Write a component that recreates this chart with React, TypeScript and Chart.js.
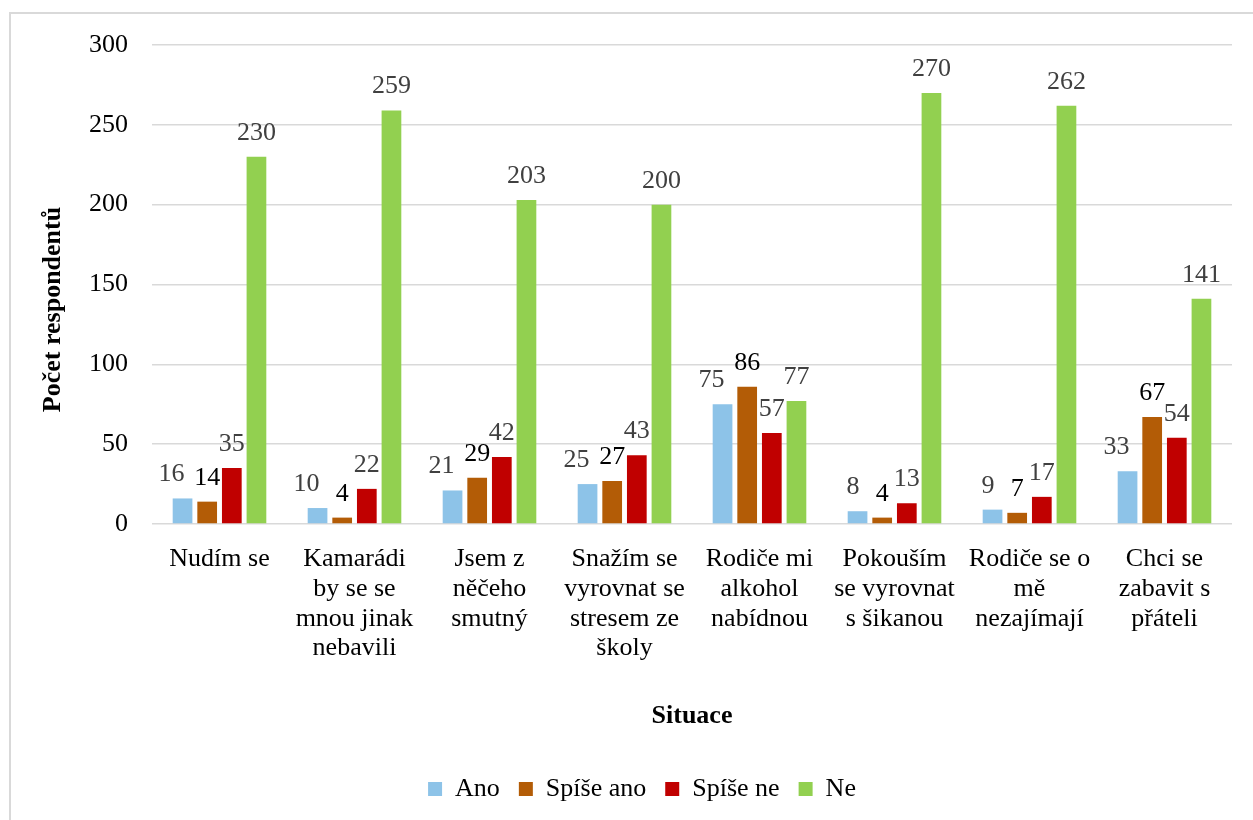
import React, { useEffect, useRef } from "react";
import { Chart, registerables } from "chart.js";

Chart.register(...registerables);

// Situations (x-axis categories), split into the lines they wrap to
const categories: string[][] = [
  ["Nudím se"],
  ["Kamarádi", "by se se", "mnou jinak", "nebavili"],
  ["Jsem z", "něčeho", "smutný"],
  ["Snažím se", "vyrovnat se", "stresem ze", "školy"],
  ["Rodiče mi", "alkohol", "nabídnou"],
  ["Pokouším", "se vyrovnat", "s šikanou"],
  ["Rodiče se o", "mě", "nezajímají"],
  ["Chci se", "zabavit s", "přáteli"],
];

// Number of respondents per answer
const ano = [16, 10, 21, 25, 75, 8, 9, 33];
const spiseAno = [14, 4, 29, 27, 86, 4, 7, 67];
const spiseNe = [35, 22, 42, 43, 57, 13, 17, 54];
const ne = [230, 259, 203, 200, 77, 270, 262, 141];

const seriesNames = ["Ano", "Spíše ano", "Spíše ne", "Ne"];
const seriesColors = ["#8DC3E8", "#B35C06", "#C00000", "#92D050"];
const labelColors = ["#404040", "#000000", "#404040", "#404040"];

const yMin = 0;
const yMax = 300;
const yStep = 50;

const yTitle = "Počet respondentů";
const xTitle = "Situace";

const FONT = "'Liberation Serif', 'Times New Roman', serif";

// Value labels above each bar
const valueLabels = {
  id: "valueLabels",
  afterDatasetsDraw(chart: any) {
    const { ctx } = chart;
    ctx.save();
    ctx.font = `26px ${FONT}`;
    ctx.textBaseline = "alphabetic";
    chart.data.datasets.forEach((ds: any, i: number) => {
      const meta = chart.getDatasetMeta(i);
      if (meta.hidden) return;
      ctx.fillStyle = labelColors[i];
      meta.data.forEach((bar: any, j: number) => {
        const v = ds.data[j];
        if (i === 0) {
          ctx.textAlign = "right";
          ctx.fillText(String(v), bar.x + 2, bar.y - 17);
        } else {
          ctx.textAlign = "center";
          ctx.fillText(String(v), bar.x, bar.y - 17);
        }
      });
    });
    ctx.restore();
  },
};

// Rotated y-axis title
const yAxisTitle = {
  id: "yAxisTitle",
  afterDraw(chart: any) {
    const { ctx, chartArea } = chart;
    ctx.save();
    ctx.font = `bold 26px ${FONT}`;
    ctx.fillStyle = "#000000";
    ctx.textAlign = "center";
    ctx.textBaseline = "middle";
    ctx.translate(chartArea.left - 99, (chartArea.top + chartArea.bottom) / 2 + 25);
    ctx.rotate(-Math.PI / 2);
    ctx.fillText(yTitle, 0, 0);
    ctx.restore();
  },
};

export default function App() {
  const canvasRef = useRef<HTMLCanvasElement | null>(null);

  useEffect(() => {
    const canvas = canvasRef.current;
    if (!canvas) return;
    const data = [ano, spiseAno, spiseNe, ne];
    const chart = new Chart(canvas, {
      type: "bar",
      data: {
        labels: categories,
        datasets: seriesNames.map((name, i) => ({
          label: name,
          data: data[i],
          backgroundColor: seriesColors[i],
          borderWidth: 0,
          barPercentage: 0.8,
          categoryPercentage: 0.73,
        })),
      },
      options: {
        responsive: false,
        animation: false,
        devicePixelRatio: 1,
        layout: { padding: { left: 52, top: 45, right: 21, bottom: 8 } },
        plugins: {
          legend: {
            position: "bottom",
            labels: {
              color: "#000000",
              font: { family: FONT, size: 26 },
              boxWidth: 14,
              boxHeight: 14,
              padding: 19,
            },
          },
          tooltip: { enabled: false },
        },
        scales: {
          x: {
            grid: { display: false },
            border: { display: false },
            ticks: {
              color: "#000000",
              font: { family: FONT, size: 26, lineHeight: 1.15 },
              padding: 12,
              maxRotation: 0,
              autoSkip: false,
            },
            title: {
              display: true,
              text: xTitle,
              color: "#000000",
              font: { family: FONT, size: 26, weight: "bold" },
              padding: { top: 0, bottom: 25 },
            },
            afterFit(scale: any) {
              scale.height = 233;
            },
          },
          y: {
            min: yMin,
            max: yMax,
            grid: { color: "#D9D9D9", lineWidth: 1.5, drawTicks: false },
            border: { display: false },
            ticks: {
              stepSize: yStep,
              color: "#000000",
              font: { family: FONT, size: 26 },
              padding: 24,
            },
            afterFit(scale: any) {
              scale.width = 100;
            },
          },
        },
      },
      plugins: [valueLabels, yAxisTitle],
    });
    return () => chart.destroy();
  }, []);

  return (
    <div
      style={{
        position: "fixed",
        left: 0,
        top: 0,
        width: 1253,
        height: 820,
        overflow: "hidden",
        background: "#FFFFFF",
      }}
    >
      <div
        style={{
          position: "absolute",
          left: 9,
          top: 12,
          width: 1300,
          height: 900,
          border: "2px solid #D9D9D9",
          boxSizing: "border-box",
        }}
      />
      <canvas
        ref={canvasRef}
        width={1253}
        height={820}
        style={{ position: "absolute", left: 0, top: 0 }}
      />
    </div>
  );
}
